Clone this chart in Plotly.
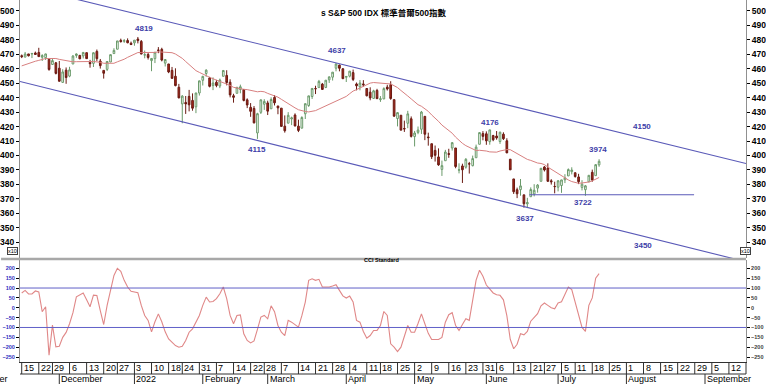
import pandas as pd
import plotly.graph_objects as go

# ======================= data =======================
title_text = "s S&P 500 IDX 標準普爾500指數"
holidays = ["2021-11-25", "2021-12-24", "2022-01-17", "2022-02-21", "2022-04-15",
            "2022-05-30", "2022-06-20", "2022-07-04"]
first_date = "2021-11-15"
last_axis_date = "2022-09-16"

opens = [4689.30, 4679.42, 4701.50, 4700.72, 4708.44, 4712.00, 4678.48, 4675.78, 4664.63, 4628.75, 4640.25,
         4602.82, 4504.73, 4589.49, 4548.37, 4631.97, 4690.86, 4691.00, 4687.64, 4710.30, 4642.99, 4636.46, 4719.13, 4652.50, 4587.90, 4594.96, 4645.52, 4703.96, 4733.99, 4795.49, 4788.64, 4794.23, 4775.21,
         4778.14, 4804.51, 4787.99, 4693.39, 4697.66, 4655.34, 4669.14, 4728.59, 4733.56, 4637.99, 4632.24, 4588.03, 4547.35, 4471.38, 4356.32, 4366.64, 4408.43, 4380.58, 4336.19, 4431.79,
         4519.57, 4566.39, 4535.41, 4482.79, 4505.75, 4480.02, 4547.00, 4553.24, 4506.27, 4412.61, 4429.28, 4455.75, 4456.06, 4384.57, 4332.74, 4324.93, 4155.77, 4298.38, 4354.17,
         4363.14, 4322.56, 4401.31, 4342.12, 4327.01, 4202.66, 4223.10, 4252.55, 4279.50, 4202.75, 4188.82, 4288.14, 4345.11, 4407.34, 4462.40, 4469.10, 4493.10, 4469.98, 4522.66, 4541.09, 4602.86, 4624.20, 4599.02,
         4540.32, 4547.97, 4572.45, 4494.17, 4474.65, 4494.15, 4462.64, 4437.59, 4394.30, 4449.12, 4385.63, 4390.63, 4472.26, 4489.17, 4385.83, 4255.34, 4278.14, 4186.52, 4222.58, 4253.75,
         4130.61, 4159.78, 4181.18, 4270.43, 4128.17, 4081.27, 4035.18, 3990.08, 3903.95, 3963.90, 4013.02, 4052.00, 4051.98, 3899.00, 3927.76, 3919.42, 3942.94, 3929.59, 3984.60, 4077.43, 4151.09,
         4149.78, 4095.41, 4137.57, 4134.72, 4096.47, 4147.12, 4101.65, 3974.39, 3838.15, 3763.52, 3764.05, 3728.18, 3665.90, 3715.31, 3733.89, 3774.71, 3821.75, 3920.76, 3913.00, 3825.09, 3785.99,
         3781.00, 3792.61, 3831.98, 3858.85, 3888.26, 3880.94, 3851.95, 3779.67, 3763.99, 3818.00, 3883.79, 3860.73, 3935.32]
highs = [4697.42, 4714.95, 4701.50, 4708.80, 4717.75, 4743.83, 4699.39, 4702.87, 4664.63, 4672.95, 4646.02,
         4652.94, 4595.46, 4608.03, 4612.60, 4694.04, 4705.06, 4695.26, 4713.57, 4710.30, 4660.47, 4712.60, 4731.99, 4666.70, 4587.90, 4651.14, 4697.67, 4740.74, 4791.49, 4807.02, 4804.06, 4808.93, 4786.83,
         4796.64, 4818.62, 4797.70, 4725.01, 4707.95, 4673.02, 4714.13, 4748.83, 4744.13, 4665.13, 4632.24, 4611.55, 4602.11, 4494.52, 4417.35, 4411.01, 4453.23, 4428.74, 4432.72, 4516.89,
         4550.49, 4595.31, 4542.88, 4539.66, 4521.86, 4531.32, 4590.03, 4588.92, 4526.33, 4426.22, 4472.77, 4489.55, 4456.06, 4394.60, 4362.12, 4341.51, 4294.73, 4385.34, 4388.84,
         4378.45, 4401.48, 4416.78, 4342.12, 4327.01, 4276.94, 4299.40, 4268.28, 4291.01, 4247.57, 4271.05, 4358.90, 4412.67, 4465.40, 4481.75, 4522.00, 4501.07, 4520.58, 4546.03, 4575.65, 4637.30, 4627.77, 4603.07,
         4548.70, 4583.50, 4593.45, 4503.94, 4521.16, 4520.41, 4463.57, 4471.00, 4453.92, 4460.46, 4410.31, 4471.03, 4488.29, 4512.94, 4385.83, 4299.02, 4278.14, 4240.71, 4308.45, 4269.68,
         4169.81, 4200.10, 4307.66, 4270.43, 4157.69, 4081.27, 4068.82, 4049.09, 3964.80, 4038.88, 4046.46, 4090.72, 4051.98, 3945.96, 3943.42, 3981.88, 3955.68, 3999.33, 4075.14, 4158.49, 4168.34,
         4166.54, 4177.51, 4142.67, 4168.78, 4164.86, 4160.14, 4119.10, 3974.39, 3838.15, 3778.18, 3837.56, 3728.18, 3707.71, 3779.65, 3801.79, 3802.58, 3913.65, 3927.72, 3945.86, 3836.50, 3818.99,
         3829.82, 3832.19, 3870.91, 3910.63, 3918.50, 3880.94, 3873.41, 3829.44, 3796.41, 3863.62, 3902.44, 3939.81, 3974.13]
lows = [4672.86, 4679.42, 4684.41, 4672.78, 4694.22, 4682.17, 4652.66, 4659.89, 4585.43, 4625.26, 4560.00,
        4510.27, 4504.73, 4495.12, 4540.51, 4631.97, 4674.52, 4665.98, 4670.24, 4667.60, 4606.52, 4611.22, 4651.89, 4600.22, 4531.10, 4583.16, 4645.53, 4703.96, 4733.99, 4780.04, 4778.08, 4775.33, 4765.75,
        4758.17, 4774.27, 4699.44, 4671.26, 4662.74, 4582.24, 4638.27, 4706.71, 4650.29, 4614.75, 4568.70, 4530.20, 4477.95, 4395.34, 4222.62, 4287.11, 4304.80, 4309.50, 4292.46, 4414.02,
        4483.53, 4544.32, 4470.39, 4451.50, 4471.47, 4465.40, 4547.00, 4484.31, 4401.41, 4364.84, 4429.28, 4429.68, 4373.81, 4327.22, 4267.11, 4221.51, 4114.65, 4286.83, 4315.12,
        4279.54, 4322.56, 4345.56, 4284.98, 4199.85, 4157.87, 4223.10, 4209.80, 4200.49, 4161.72, 4187.90, 4251.99, 4335.65, 4390.57, 4424.30, 4469.10, 4455.81, 4465.17, 4501.07, 4517.69, 4581.32, 4581.32, 4530.41,
        4507.57, 4539.21, 4514.17, 4450.04, 4450.30, 4474.60, 4408.39, 4381.34, 4392.70, 4390.77, 4370.30, 4390.63, 4448.76, 4384.47, 4267.62, 4200.82, 4175.04, 4162.90, 4188.63, 4124.28,
        4062.51, 4147.08, 4148.91, 4106.01, 4067.91, 3975.48, 3958.17, 3928.82, 3858.87, 3963.90, 3983.99, 4033.93, 3911.91, 3876.58, 3810.32, 3909.04, 3875.13, 3925.03, 3984.60, 4077.43, 4104.88,
        4073.85, 4074.37, 4098.67, 4109.18, 4080.19, 4107.20, 4017.17, 3900.16, 3734.30, 3705.68, 3722.30, 3639.77, 3636.87, 3715.31, 3717.69, 3743.52, 3821.75, 3889.66, 3820.14, 3799.02, 3738.67,
        3752.10, 3742.06, 3809.37, 3858.85, 3869.34, 3847.22, 3802.36, 3759.07, 3721.56, 3817.18, 3818.63, 3860.73, 3922.03]
closes = [4682.80, 4700.90, 4688.67, 4704.54, 4697.96, 4682.94, 4690.70, 4701.46, 4594.62, 4655.27, 4567.00,
          4513.04, 4577.10, 4538.43, 4591.67, 4686.75, 4701.21, 4667.45, 4712.02, 4668.97, 4634.09, 4709.85, 4668.67, 4620.64, 4568.02, 4649.23, 4696.56, 4725.79, 4791.19, 4786.35, 4793.06, 4778.73, 4766.18,
          4796.56, 4793.54, 4700.58, 4696.05, 4677.03, 4670.29, 4713.07, 4726.35, 4659.03, 4662.85, 4577.11, 4532.76, 4482.73, 4397.94, 4410.13, 4356.45, 4349.93, 4326.51, 4431.85, 4515.55,
          4546.54, 4589.38, 4477.44, 4500.53, 4483.87, 4521.54, 4587.18, 4504.08, 4418.64, 4401.67, 4471.07, 4475.01, 4380.26, 4348.87, 4304.76, 4225.50, 4288.70, 4384.65, 4373.94,
          4306.26, 4386.54, 4363.49, 4328.87, 4201.09, 4170.70, 4277.88, 4259.52, 4204.31, 4173.11, 4262.45, 4357.86, 4411.67, 4463.12, 4461.18, 4511.61, 4456.24, 4520.16, 4543.06, 4575.52, 4631.60, 4602.45, 4530.41,
          4545.86, 4582.64, 4525.12, 4481.15, 4500.21, 4488.28, 4412.53, 4397.45, 4446.59, 4392.59, 4391.69, 4462.21, 4459.45, 4393.66, 4271.78, 4296.12, 4175.20, 4183.96, 4287.50, 4131.93,
          4155.38, 4175.48, 4300.17, 4146.87, 4123.34, 3991.24, 4001.05, 3935.18, 3930.08, 4023.89, 4008.01, 4088.85, 3923.68, 3900.79, 3901.36, 3973.75, 3941.48, 3978.73, 4057.84, 4158.24, 4132.15,
          4101.23, 4176.82, 4108.54, 4121.43, 4160.68, 4115.77, 4017.82, 3900.86, 3749.63, 3735.48, 3789.99, 3666.77, 3674.84, 3764.79, 3759.89, 3795.73, 3911.74, 3900.11, 3821.55, 3818.83, 3785.38,
          3825.33, 3831.39, 3845.08, 3902.62, 3899.38, 3854.43, 3818.80, 3801.78, 3790.38, 3863.16, 3830.85, 3936.69, 3959.90]

# 20-day moving average (index points)
ma20 = [4619, 4628, 4636, 4643, 4651, 4657, 4663, 4670, 4670, 4672, 4670, 4664, 4660, 4653, 4648, 4647, 4648, 4649, 4652, 4651,
        4649, 4649, 4648, 4644, 4637, 4636, 4636, 4637, 4647, 4654, 4665, 4678, 4688, 4701, 4711, 4711, 4711, 4712, 4710, 4712,
        4716, 4714, 4714, 4711, 4710,
        4701, 4686, 4671, 4649, 4627, 4604, 4586, 4574, 4561, 4551, 4540, 4530, 4521, 4513, 4507, 4496, 4484, 4471, 4465, 4462,
        4457, 4455, 4450, 4443, 4440, 4443, 4440, 4429, 4421, 4410, 4403, 4388, 4372, 4360, 4344, 4329, 4316, 4309, 4304, 4301,
        4305, 4310, 4321, 4332, 4344, 4352, 4362, 4378, 4389, 4397, 4408, 4427, 4445, 4455, 4467, 4481, 4493, 4500, 4504, 4503,
        4500, 4500, 4497, 4494, 4482, 4469, 4449, 4427, 4411, 4391, 4372, 4351, 4340, 4323, 4305, 4280, 4259, 4236, 4210, 4192,
        4173, 4154, 4127, 4103, 4084, 4068, 4056, 4046, 4034, 4036, 4035, 4031, 4025, 4023, 4023, 4031, 4037, 4041, 4040, 4026,
        4012, 3997, 3984, 3973, 3966, 3956, 3948, 3945, 3937, 3920, 3905, 3889, 3871, 3857, 3844, 3831, 3820, 3812, 3808, 3810,
        3813, 3817, 3825, 3838, 3848]

# CCI (standard)
cci = [75, 88, 70, 70, 85, 80, -20, 5, -240, -88,
       -198, -195, -150, -125, -81, -25, 55, 65, 75, 40,
       5, 64, 62, -14, -85, 12, 97, 164, 200, 185,
       139, 105, 83, 80, 76, 12, -39, -64, -122, -71,
       -31, -71, -122, -158, -175, -192, -200, -195, -166, -124,
       -107, -73, -39, 12, 54, 29, 32, 46, 71, 105,
       46, -39, -81, -39, -36, -132, -166, -178, -168, -110,
       -47, -39, -56, 10, -20, -90, -124, -141, -64, -73,
       -85, -98, -40, 29, 139, 147, 139, 144, 105, 105,
       105, 110, 117, 88, 60, 49, 59, 29, -64, -73,
       -120, -154, -141, -115, -115, -90, -19, -39, -183, -200,
       -222, -200, -150, -90, -124, -124, -80, -31, -81, -130,
       -161, -161, -161, -150, -73, -35, -25, -90, -115, -85,
       -56, -64, 40, 140, 190, 160, 115, 95, 75, 66,
       63, 40, -40, -160, -208, -185, -132, -137, -120, -68,
       -50, -30, 10, 24, 12, 0, -5, 24, 30, 70,
       105, 92, 29, -30, -100, -120, 12, 50, 150, 173]
cci_levels = [100, -100]

price_ticks = list(range(340, 501, 10))
cci_ticks = [200, 150, 100, 50, 0, -50, -100, -150, -200, -250]
month_labels = ["December", "2022", "February", "March", "April", "May", "June", "July", "August", "September"]
first_month_label = "November"

# trend lines drawn on the chart: (trading-day position, value in index points)
upper_channel = {"x": [10.0, 212.0], "y": [5114, 3945]}
lower_channel = {"x": [-0.5, 212.0], "y": [4511, 3266]}
support_line = {"x": [148.6, 196.8], "y": [3729, 3729]}

# text labels placed on the chart: (label, trading-day position, value in index points)
price_labels = [("4819", 35.8, 4874), ("4637", 92.2, 4724), ("4176", 137.0, 4226), ("4150", 181.7, 4203),
                ("4115", 68.9, 4042), ("3974", 168.6, 4042), ("3722", 164.4, 3676), ("3637", 147.2, 3563),
                ("3450", 181.9, 3381)]

# ======================= build =======================
n = len(closes)
assert len(opens) == len(highs) == len(lows) == n == len(ma20) == len(cci) == 170

cal = pd.bdate_range(first_date, last_axis_date)
cal = cal[~cal.isin(pd.to_datetime(holidays))]
pos = {d: i for i, d in enumerate(cal)}
idx = list(range(n))

iso = cal.isocalendar()
weeks = pd.Series(cal).groupby([iso.year.values, iso.week.values]).first()
week_pos = [pos[d] for d in weeks]
week_txt = [str(d.day) for d in weeks]
months = pd.Series(cal).groupby([cal.year, cal.month]).first().iloc[1:]
month_pos = [pos[d] for d in months]

scale = 10.0
PH = 362.0
main_bot = (PH - 258) / PH
cci_top = (PH - 260) / PH
XR = [-0.5, 212.0]
YR = [329.2, 507.4]
CR = [-275, 242]
BLUE = "#4040a8"
FONT = "Liberation Sans, Arial, Noto Sans CJK TC, sans-serif"

fig = go.Figure()
fig.add_trace(go.Candlestick(
    x=idx, open=[v / scale for v in opens], high=[v / scale for v in highs],
    low=[v / scale for v in lows], close=[v / scale for v in closes],
    xaxis="x2", yaxis="y", whiskerwidth=0, showlegend=False, hoverinfo="skip",
    increasing=dict(line=dict(color="#6a9a6a", width=1), fillcolor="white"),
    decreasing=dict(line=dict(color="#6a1a12", width=1), fillcolor="#a8281a")))
fig.add_trace(go.Scatter(x=idx, y=[v / scale for v in ma20], xaxis="x2", yaxis="y3", mode="lines",
                         line=dict(color="#d88080", width=1), showlegend=False, hoverinfo="skip"))
for ln in (upper_channel, lower_channel, support_line):
    fig.add_trace(go.Scatter(x=ln["x"], y=[v / scale for v in ln["y"]], xaxis="x2", yaxis="y", mode="lines",
                             line=dict(color="#5a5ab8", width=1.1), showlegend=False, hoverinfo="skip"))
fig.add_trace(go.Scatter(x=idx, y=cci, xaxis="x", yaxis="y2", mode="lines",
                         line=dict(color="#e08888", width=1.1), showlegend=False, hoverinfo="skip"))
fig.add_trace(go.Scatter(x=idx, y=cci, xaxis="x", yaxis="y4", mode="lines", opacity=0,
                         line=dict(width=0), showlegend=False, hoverinfo="skip"))

shapes = []
for lv in cci_levels:
    shapes.append(dict(type="line", xref="x domain", x0=0, x1=1, yref="y2", y0=lv, y1=lv,
                       line=dict(color="#6060c8", width=1)))
# panel separator
shapes.append(dict(type="line", xref="paper", x0=-19 / 728, x1=1, yref="paper",
                   y0=(PH - 259) / PH, y1=(PH - 259) / PH, line=dict(color="#a8a8a8", width=2.5)))
# date row
row_b = -12 / PH
row_m = -22 / PH
for w in week_pos:
    shapes.append(dict(type="line", xref="x", x0=w, x1=w, yref="paper", y0=0, y1=row_b,
                       line=dict(color="#303030", width=1)))
for m in month_pos:
    shapes.append(dict(type="line", xref="x", x0=m, x1=m, yref="paper", y0=row_b, y1=row_m,
                       line=dict(color="#303030", width=1)))
shapes.append(dict(type="line", xref="paper", x0=0, x1=1, yref="paper", y0=row_b, y1=row_b,
                   line=dict(color="#303030", width=1)))
shapes.append(dict(type="line", xref="paper", x0=1, x1=1, yref="paper", y0=0, y1=row_b,
                   line=dict(color="#303030", width=1)))

ann = []
for w, t in zip(week_pos, week_txt):
    ann.append(dict(text=t, xref="x", x=w, xanchor="left", xshift=0, yref="paper", y=-6 / PH,
                    yanchor="middle", showarrow=False, font=dict(size=9, color="black", family=FONT)))
for m, t in zip(month_pos, month_labels):
    ann.append(dict(text=t, xref="x", x=m, xanchor="left", xshift=0, yref="paper", y=-17.5 / PH,
                    yanchor="middle", showarrow=False, font=dict(size=9, color="black", family=FONT)))
ann.append(dict(text=first_month_label, xref="paper", x=(9 - 19) / 728, xanchor="right", yref="paper",
                y=-17.5 / PH, yanchor="middle", showarrow=False,
                font=dict(size=9, color="black", family=FONT)))
for t, xp, yv in price_labels:
    ann.append(dict(text=t, xref="x2", x=xp, yref="y", y=yv / scale, showarrow=False,
                    font=dict(size=8, color=BLUE, family=FONT, weight="bold")))
ann.append(dict(text=title_text, xref="paper", x=(384 - 19) / 728, yref="paper", y=(PH - 6) / PH,
                showarrow=False, font=dict(size=8.5, color="black", family=FONT, weight="bold")))
ann.append(dict(text="CCI Standard", xref="paper", x=(381 - 19) / 728, yref="paper", y=(PH - 264.5) / PH,
                showarrow=False, font=dict(size=5.5, color="black", family=FONT, weight="bold")))
for xp in (6, 752):
    ann.append(dict(text="x10", xref="paper", x=(xp - 19) / 728, yref="paper", y=(PH - 255) / PH,
                    showarrow=False, bordercolor="#404040", borderwidth=1, borderpad=0, bgcolor="white",
                    font=dict(size=5.5, color="black", family=FONT)))

axfont = dict(size=8.5, color="black", family=FONT, weight="bold")
ccifont_l = dict(size=5.5, color="#3030c0", family=FONT, weight="bold")
ccifont_r = dict(size=5.5, color="#404040", family=FONT, weight="bold")
common_y = dict(showgrid=False, zeroline=False, ticks="outside", ticklen=3, tickcolor="black",
                showline=True, linecolor="#909090", linewidth=1, tickmode="array")

fig.update_layout(
    width=766, height=384, margin=dict(l=19, r=19, t=0, b=22),
    paper_bgcolor="white", plot_bgcolor="white", showlegend=False,
    xaxis=dict(domain=[0, 1], anchor="y2", range=XR, showgrid=False, zeroline=False,
               showticklabels=False, ticks="", showline=True, linecolor="#303030"),
    xaxis2=dict(domain=[0, 1], anchor="y", range=XR, matches="x", showgrid=False, zeroline=False,
                showticklabels=False, ticks="", showline=False, rangeslider=dict(visible=False)),
    yaxis=dict(domain=[main_bot, 1], anchor="x2", range=YR, side="left", tickvals=price_ticks,
               tickfont=axfont, **common_y),
    yaxis3=dict(overlaying="y", side="right", anchor="x2", range=YR, tickvals=price_ticks,
                tickfont=axfont, **common_y),
    yaxis2=dict(domain=[0, cci_top], anchor="x", range=CR, side="left", tickvals=cci_ticks,
                tickfont=ccifont_l, **common_y),
    yaxis4=dict(overlaying="y2", side="right", anchor="x", range=CR, tickvals=cci_ticks,
                tickfont=ccifont_r, **common_y),
    shapes=shapes, annotations=ann,
)
fig.write_html("out.html", config={"displayModeBar": False},
               post_script="document.body.style.margin='0';document.body.style.overflow='hidden';")
